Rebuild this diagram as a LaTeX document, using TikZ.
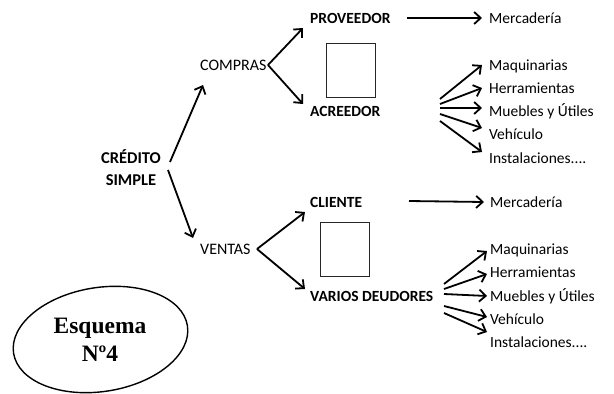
\documentclass[tikz,border=0pt]{standalone}
\usepackage{fontspec}
\newfontfamily\calfont{Carlito}
\newfontfamily\timesfont{Liberation Serif}
\usetikzlibrary{arrows.meta}
\tikzset{
  lbl/.style={font=\calfont\fontsize{15.5}{18}\selectfont, inner sep=0pt, anchor=base west, text=black},
  blbl/.style={lbl, font=\calfont\bfseries\fontsize{15.5}{18}\selectfont},
  arr/.style={line width=1.8pt, -{Straight Barb[length=6.5pt,width=12pt,line width=1.8pt]}},
  emptybox/.style={draw=black!85, line width=1pt},
}
\begin{document}
\begin{tikzpicture}[x=1pt,y=-1pt]
\useasboundingbox (0,0) rectangle (614,394);
% main
\node[blbl, anchor=base, font=\calfont\bfseries\fontsize{16.5}{19}\selectfont] (cs1) at (131,163) {CRÉDITO};
\node[blbl, anchor=base, font=\calfont\bfseries\fontsize{16.5}{19}\selectfont] (cs2) at (131,185) {SIMPLE};
\node[lbl, font=\calfont\fontsize{16}{18}\selectfont] (compras) at (200,70) {COMPRAS};
\node[lbl, font=\calfont\fontsize{16}{18}\selectfont] (ventas) at (200,254) {VENTAS};
\coordinate (c1) at (170,162);
\coordinate (c2) at (203,85);
\coordinate (v1) at (168,170);
\coordinate (v2) at (193,238);
\draw[arr] (c1) -- (c2);
\draw[arr] (v1) -- (v2);
% compras branch
\node[blbl] (prov) at (310,23) {PROVEEDOR};
\node[blbl] (acr) at (310,116) {ACREEDOR};
\coordinate (cp) at (268,65);
\draw[arr] (cp) -- (303,28);
\draw[arr] (cp) -- (303,104);
\draw[emptybox] (326,43) rectangle (375,97);
\node[lbl] (merc1) at (489,23) {Mercadería};
\draw[arr] (407,18) -- ([xshift=-7pt,yshift=5pt]merc1.base west);
\node[lbl] (a1) at (489,70) {Maquinarias};
\node[lbl] (a2) at (489,93) {Herramientas};
\node[lbl] (a3) at (489,116) {Muebles y Útiles};
\node[lbl] (a4) at (489,139) {Vehículo};
\node[lbl] (a5) at (489,163) {Instalaciones....};
\draw[arr] (440,99) -- (482,65);
\draw[arr] (440,104) -- (482,88);
\draw[arr] (440,108) -- (482,108);
\draw[arr] (440,114) -- (482,128);
\draw[arr] (440,121) -- (482,152);
% ventas branch
\node[blbl] (cli) at (310,207) {CLIENTE};
\node[blbl] (vd) at (310,301) {VARIOS DEUDORES};
\coordinate (vp) at (257,249);
\draw[arr] (vp) -- (305,212);
\draw[arr] (vp) -- (305,289);
\draw[emptybox] (320,222) rectangle (369,276);
\node[lbl] (merc2) at (490,207) {Mercadería};
\draw[arr] (409,201) -- (484,202);
\node[lbl] (b1) at (490,254) {Maquinarias};
\node[lbl] (b2) at (490,277) {Herramientas};
\node[lbl] (b3) at (490,301) {Muebles y Útiles};
\node[lbl] (b4) at (490,324) {Vehículo};
\node[lbl] (b5) at (490,347) {Instalaciones....};
\draw[arr] (444,284) -- (487,251);
\draw[arr] (444,289) -- (487,274);
\draw[arr] (444,294) -- (487,296);
\draw[arr] (444,306) -- (487,317);
\draw[arr] (444,313) -- (487,332);
% ellipse
\draw[line width=1.4pt, rotate around={9:(100.5,339.5)}] (100.5,339.5) ellipse (88 and 52);
\node[inner sep=0pt, anchor=base, font=\timesfont\bfseries\fontsize{23.5}{27}\selectfont] (esq) at (100,333) {Esquema};
\node[inner sep=0pt, anchor=base, font=\timesfont\bfseries\fontsize{23.5}{27}\selectfont] (num) at (100,361) {Nº4};
\end{tikzpicture}
\end{document}
